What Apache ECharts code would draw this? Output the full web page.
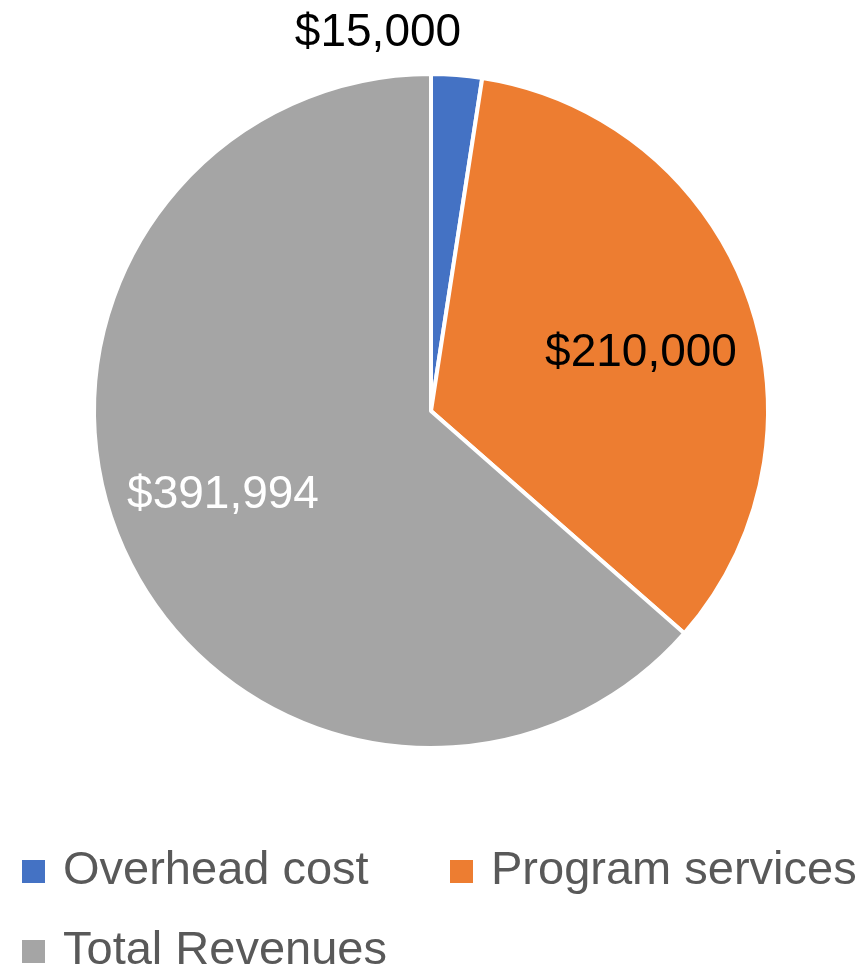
<!DOCTYPE html>
<html>
<head>
<meta charset="utf-8">
<script src="https://cdn.jsdelivr.net/npm/echarts@6/dist/echarts.min.js"></script>
<style>
html,body{margin:0;padding:0;background:#fff;}
#chart{width:864px;height:968px;}
</style>
</head>
<body>
<div id="chart"></div>
<script>
const categories = ['Overhead cost', 'Program services', 'Total Revenues'];
const values = [15000, 210000, 391994];
const colors = ['#4472C4', '#ED7D31', '#A5A5A5'];
const labelColors = ['#000000', '#000000', '#ffffff'];

const FONT = '"Liberation Sans", Arial, sans-serif';
const labelPos = [[378, 33], [641, 353], [223, 495]];

const chart = echarts.init(document.getElementById('chart'), null, {renderer: 'canvas'});

function fmt(v) {
  return '$' + v.toLocaleString('en-US');
}

const legendPos = [[20, 848], [448, 848], [20, 928]];

chart.setOption({
  backgroundColor: '#ffffff',
  animation: false,
  legend: categories.map((c, i) => ({
    data: [c],
    left: legendPos[i][0],
    top: legendPos[i][1],
    icon: 'rect',
    itemWidth: 25,
    itemHeight: 25,
    selectedMode: false,
    padding: 0,
    textStyle: {
      fontFamily: FONT,
      fontSize: 47,
      color: '#595959',
      padding: [0, 0, 0, 12],
      lineHeight: 47
    }
  })),
  series: [{
    type: 'pie',
    center: [431, 411],
    radius: [0, 337],
    startAngle: 90,
    clockwise: true,
    itemStyle: {borderColor: '#ffffff', borderWidth: 4},
    label: {
      show: true,
      position: 'inside',
      fontFamily: FONT,
      fontSize: 46,
      formatter: p => fmt(p.value)
    },
    labelLine: {show: false},
    labelLayout: function (params) {
      const p = labelPos[params.dataIndex];
      return {x: p[0], y: p[1], align: 'center', verticalAlign: 'middle'};
    },
    emphasis: {disabled: true},
    data: categories.map((c, i) => ({
      name: c,
      value: values[i],
      itemStyle: {color: colors[i]},
      label: {color: labelColors[i]}
    }))
  }]
});
</script>
</body>
</html>
